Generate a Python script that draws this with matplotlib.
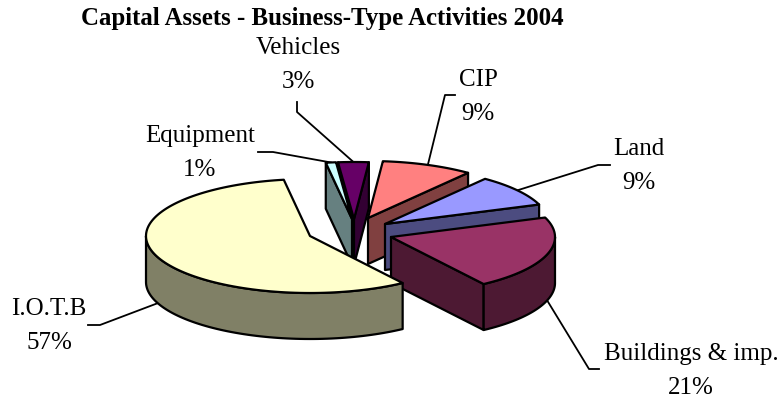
import numpy as np
import matplotlib
matplotlib.use("Agg")
import matplotlib.pyplot as plt
from matplotlib.patches import Polygon

plt.rcParams['font.family'] = ['Liberation Serif', 'DejaVu Serif']

# slices clockwise, starting at the back edge of Land
labels = ['Land', 'Buildings & imp.', 'I.O.T.B', 'Equipment', 'Vehicles', 'CIP']
shares = [9, 21, 57, 1, 3, 9]
title = 'Capital Assets - Business-Type Activities 2004'

top_colors = ['#9999FF', '#993366', '#FFFFCC', '#CCFFFF', '#660066', '#FF8080']
wall_colors = ['#4C4C80', '#4D1933', '#808066', '#668080', '#330033', '#804040']

# pie geometry, in pixels
rx, ry = 164, 57
depth = 46
start_angle = -52.4
# where each exploded slice has its tip
tips = [(385, 224), (391, 237), (310, 236), (352, 219), (354, 219), (368, 218)]
draw_order = [4, 3, 5, 0, 1, 2]

# label centres and the far points of the leader lines
label_pos = [(639, 166), (691, 371), (49, 326), (200, 153), (298, 65), (478, 97)]
leaders = [[(598, 165), (610, 165)],
           [(589, 369), (599, 369)],
           [(100, 325), (88, 325)],
           [(273, 152), (258, 152)],
           [(297, 112), (297, 102)],
           [(445, 95), (455, 95)]]

lw = 1.6

fig = plt.figure(figsize=(7.8, 4), dpi=100)
ax = fig.add_axes([0, 0, 1, 1])
ax.set_xlim(0, 780)
ax.set_ylim(400, 0)
ax.axis('off')

# angles in the squashed circle, y pointing down
ends = start_angle + np.cumsum(shares) * 3.6
starts = ends - np.array(shares) * 3.6


def rim(tip, a):
    a = np.radians(a)
    return np.column_stack([tip[0] + rx * np.cos(a), tip[1] + ry * np.sin(a)])


def add_wall(points, color, z):
    pts = np.array(points)
    low = pts[::-1] + [0, depth]
    ax.add_patch(Polygon(np.vstack([pts, low]), closed=True, facecolor=color,
                         edgecolor='black', linewidth=lw, joinstyle='round',
                         zorder=z))


for z, i in enumerate(draw_order):
    tip = tips[i]
    t1, t2 = starts[i], ends[i]
    z = z * 4 + 2

    # flat sides, only those turned towards the viewer
    if np.cos(np.radians(t1)) < 0:
        add_wall(np.vstack([[tip], rim(tip, np.array([t1]))]), wall_colors[i], z)
    if np.cos(np.radians(t2)) > 0:
        add_wall(np.vstack([[tip], rim(tip, np.array([t2]))]), wall_colors[i], z)

    # curved side, the front half of the ellipse
    lo, hi = max(t1, 0), min(t2, 180)
    if hi > lo:
        add_wall(rim(tip, np.linspace(lo, hi, 80)), wall_colors[i], z + 1)

    top = np.vstack([[tip], rim(tip, np.linspace(t1, t2, 120))])
    ax.add_patch(Polygon(top, closed=True, facecolor=top_colors[i],
                         edgecolor='black', linewidth=lw, joinstyle='round',
                         zorder=z + 2))

for i, name in enumerate(labels):
    mid = (starts[i] + ends[i]) / 2
    p = rim(tips[i], np.array([mid]))[0]
    if np.sin(np.radians(mid)) > 0:
        p = p + [0, depth]
    xy = np.vstack([p, leaders[i]])
    ax.plot(xy[:, 0], xy[:, 1], color='black', lw=1.3, zorder=1)
    ax.text(label_pos[i][0], label_pos[i][1], '%s\n%d%%' % (name, shares[i]),
            ha='center', va='center', fontsize=18, color='black',
            linespacing=1.7, zorder=40)

ax.text(322, 18, title, ha='center', va='center', fontsize=17.9,
        fontweight='bold', color='black')

fig.savefig('out.png', dpi=100)
